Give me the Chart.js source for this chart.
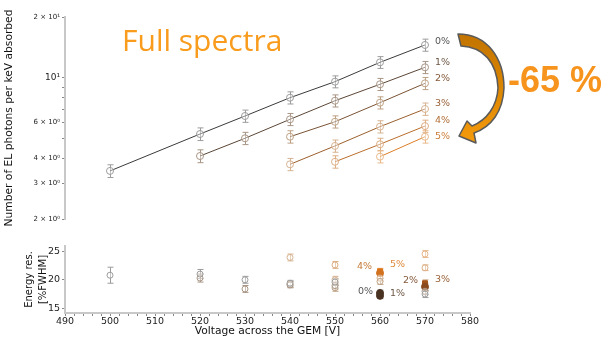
<!DOCTYPE html>
<html>
<head>
<meta charset="utf-8">
<script src="https://cdn.jsdelivr.net/npm/chart.js@4"></script>
<style>
  html, body { margin: 0; padding: 0; background: #fff; }
  #wrap { position: relative; width: 606px; height: 338px; overflow: hidden; font-family: "DejaVu Sans", sans-serif; }
  #wrap canvas { position: absolute; left: 0; }
  #arrow { position: absolute; left: 0; top: 0; }
  .lbl { position: absolute; font-size: 9.5px; line-height: 1; white-space: nowrap; }
  #title { position: absolute; left: 122px; top: 25px; font-family: "Open Sans", sans-serif; font-size: 30px; line-height: 1; color: #f99b1c; white-space: nowrap; }
  #drop { position: absolute; left: 508px; top: 62px; font-family: "Liberation Sans", Arial, sans-serif; font-weight: bold; font-size: 36px; line-height: 1; color: #f7941d; white-space: nowrap; }
</style>
</head>
<body>
<div id="wrap">
  <canvas id="yieldChart" width="606" height="232" style="top:0"></canvas>
  <canvas id="resChart" width="606" height="102" style="top:236px"></canvas>

  <svg id="arrow" width="606" height="338">
    <defs>
      <linearGradient id="arrowFill" x1="0" y1="0" x2="0" y2="1">
        <stop offset="0" stop-color="#c27400"/>
        <stop offset="0.45" stop-color="#d98400"/>
        <stop offset="1" stop-color="#f59a0c"/>
      </linearGradient>
    </defs>
    <path d="M458,34 C487,34 504,58 504,88 C503,112 491,127 474,133 L476,143 L459,136 L467,121 L472,126 C487,120 497,106 498,88 C497,62 483,47 461,46 Z"
          fill="url(#arrowFill)" stroke="#5a5a5a" stroke-width="1.5" stroke-linejoin="round"/>
  </svg>

  <div id="title">Full spectra</div>
  <div id="drop">-65 %</div>

  <div class="lbl" style="left:435px;top:36px;color:#555555">0%</div>
  <div class="lbl" style="left:435px;top:57px;color:#6f5846">1%</div>
  <div class="lbl" style="left:435px;top:73px;color:#84593a">2%</div>
  <div class="lbl" style="left:435px;top:98px;color:#9a643a">3%</div>
  <div class="lbl" style="left:435px;top:115px;color:#b27038">4%</div>
  <div class="lbl" style="left:435px;top:131px;color:#cc7e38">5%</div>

  <div class="lbl" style="left:357px;top:261px;color:#c47a36">4%</div>
  <div class="lbl" style="left:390px;top:259px;color:#dd8a3c">5%</div>
  <div class="lbl" style="left:358px;top:286px;color:#555555">0%</div>
  <div class="lbl" style="left:390px;top:288px;color:#6f5846">1%</div>
  <div class="lbl" style="left:403px;top:275px;color:#84593a">2%</div>
  <div class="lbl" style="left:435px;top:274px;color:#9a643a">3%</div>
</div>

<script>
// GEM voltages (V)
const voltage = [500, 520, 530, 540, 550, 560, 570];
const seriesNames = ['0%', '1%', '2%', '3%', '4%', '5%'];

// EL photons per keV absorbed, one array per admixture
const photons0 = [3.46, 5.27, 6.47, 7.97, 9.57, 11.93, 14.54];
const photons1 = [null, 4.10, 5.02, 6.23, 7.70, 9.29, 11.27];
const photons2 = [null, null, null, 5.11, 6.06, 7.53, 9.39];
const photons3 = [null, null, null, 3.73, 4.60, 5.73, 7.01];
const photons4 = [null, null, null, null, 3.84, 4.69, 5.77];
const photons5 = [null, null, null, null, null, 4.07, 5.11];

const photonsErr0 = [0.25, 0.38, 0.45, 0.55, 0.65, 0.80, 1.00];
const photonsErr1 = [null, 0.30, 0.35, 0.43, 0.53, 0.64, 0.78];
const photonsErr2 = [null, null, null, 0.36, 0.42, 0.52, 0.65];
const photonsErr3 = [null, null, null, 0.26, 0.32, 0.40, 0.49];
const photonsErr4 = [null, null, null, null, 0.27, 0.33, 0.40];
const photonsErr5 = [null, null, null, null, null, 0.28, 0.36];

// Energy resolution (% FWHM)
const res0 = [20.8, 21.0, 20.0, 19.4, 19.6, 17.7, 17.5];
const res1 = [null, 20.3, 18.4, 19.1, 19.0, 17.2, 18.0];
const res2 = [null, null, null, 19.2, 18.6, 19.7, 18.8];
const res3 = [null, null, null, 23.9, 20.0, 20.3, 19.4];
const res4 = [null, null, null, null, 22.6, 21.2, 22.1];
const res5 = [null, null, null, null, null, 21.5, 24.5];

const resErr0 = [1.4, 0.8, 0.6, 0.5, 0.6, 0.5, 0.6];
const resErr1 = [null, 0.7, 0.6, 0.5, 0.6, 0.5, 0.6];
const resErr2 = [null, null, null, 0.5, 0.6, 0.5, 0.6];
const resErr3 = [null, null, null, 0.6, 0.6, 0.5, 0.6];
const resErr4 = [null, null, null, null, 0.6, 0.5, 0.5];
const resErr5 = [null, null, null, null, null, 0.5, 0.6];

// log-axis tick values and their labels
const yieldTicks = [2, 3, 4, 5, 6, 7, 8, 9, 10, 20];
const yieldTickLabels = ['2 \u00d7 10\u2070', '3 \u00d7 10\u2070', '4 \u00d7 10\u2070', '', '6 \u00d7 10\u2070', '', '', '', '10\u00b9', '2 \u00d7 10\u00b9'];
const resTicks = [15, 20, 25];

const photons = [photons0, photons1, photons2, photons3, photons4, photons5];
const photonsErr = [photonsErr0, photonsErr1, photonsErr2, photonsErr3, photonsErr4, photonsErr5];
const res = [res0, res1, res2, res3, res4, res5];
const resErr = [resErr0, resErr1, resErr2, resErr3, resErr4, resErr5];

// styling per admixture
const lineColors   = ['#3a3a3a', '#5a4535', '#7a5233', '#9c5f2c', '#bb6d2a', '#db7e26'];
const markerColors = ['#9c9c9c', '#a89585', '#bda183', '#d6b290', '#dcae84', '#e8b88a'];
const filledColors = ['#4a3222', '#4a3222', '#8a4a1e', '#a3541a', '#d27220', '#e27a1e'];
// highlighted (filled) markers in the resolution panel
const filledAt = [[560], [560], [570], [570], [560], [560]];
const squareAt = [[], [], [], [570], [], [560]];

function points(xs, ys, es) {
  return xs.map((v, i) => ({ x: v, y: ys[i], err: es[i] })).filter(p => p.y != null);
}

const errorBars = {
  id: 'errorBars',
  beforeDatasetsDraw(chart) {
    const { ctx, scales: { x, y } } = chart;
    chart.data.datasets.forEach((ds, i) => {
      if (!chart.isDatasetVisible(i)) return;
      ctx.save();
      ctx.strokeStyle = ds.errorColor;
      ctx.lineWidth = 1;
      ds.data.forEach(p => {
        if (p.err == null) return;
        const px = Math.round(x.getPixelForValue(p.x)) + 0.5;
        const t = y.getPixelForValue(p.y + p.err);
        const b = y.getPixelForValue(p.y - p.err);
        ctx.beginPath();
        ctx.moveTo(px, t); ctx.lineTo(px, b);
        ctx.moveTo(px - 3, t); ctx.lineTo(px + 3, t);
        ctx.moveTo(px - 3, b); ctx.lineTo(px + 3, b);
        ctx.stroke();
      });
      ctx.restore();
    });
  }
};

Chart.defaults.font.family = '"DejaVu Sans", sans-serif';
Chart.defaults.color = '#222';

new Chart(document.getElementById('yieldChart'), {
  type: 'line',
  data: {
    datasets: photons.map((vals, k) => ({
      label: seriesNames[k],
      data: points(voltage, vals, photonsErr[k]),
      borderColor: lineColors[k],
      borderWidth: 1,
      pointRadius: 3.5,
      pointBorderWidth: 1,
      pointBorderColor: markerColors[k],
      pointBackgroundColor: 'rgba(255,255,255,0.4)',
      errorColor: markerColors[k],
      tension: 0
    }))
  },
  options: {
    responsive: false,
    animation: false,
    devicePixelRatio: 1,
    layout: { padding: { top: 17, bottom: 13, left: 0, right: 136 } },
    plugins: { legend: { display: false }, tooltip: { enabled: false } },
    scales: {
      x: { type: 'linear', min: 490, max: 580, display: false },
      y: {
        type: 'logarithmic', min: 2, max: 20,
        afterBuildTicks: s => { s.ticks = yieldTicks.map(v => ({ value: v })); },
        afterFit: s => { s.width = 65; },
        ticks: {
          autoSkip: false, padding: 2, color: '#222',
          font: c => ({ size: (c.tick && c.tick.value === 10) ? 9 : 7 }),
          callback: v => yieldTickLabels[yieldTicks.indexOf(v)] ?? ''
        },
        grid: { drawOnChartArea: false, drawTicks: true, tickLength: 3, tickColor: '#888' },
        border: { display: true, color: '#c8c8c8', width: 2 },
        title: { display: true, text: 'Number of EL photons per keV absorbed', font: { size: 10.7 }, color: '#111', padding: { top: 3, bottom: 0 } }
      }
    }
  },
  plugins: [errorBars]
});

new Chart(document.getElementById('resChart'), {
  type: 'line',
  data: {
    datasets: res.map((vals, k) => ({
      label: seriesNames[k],
      data: points(voltage, vals, resErr[k]),
      showLine: false,
      pointRadius: c => filledAt[k].includes(c.raw && c.raw.x) ? 3.5 : 3,
      pointBorderWidth: 1,
      pointStyle: c => squareAt[k].includes(c.raw && c.raw.x) ? 'rect' : 'circle',
      pointBorderColor: c => filledAt[k].includes(c.raw && c.raw.x) ? filledColors[k] : markerColors[k],
      pointBackgroundColor: c => filledAt[k].includes(c.raw && c.raw.x) ? filledColors[k] : 'rgba(255,255,255,0.4)',
      errorColor: markerColors[k]
    }))
  },
  options: {
    responsive: false,
    animation: false,
    devicePixelRatio: 1,
    layout: { padding: { top: 10, bottom: 0, left: 0, right: 136 } },
    plugins: { legend: { display: false }, tooltip: { enabled: false } },
    scales: {
      x: {
        type: 'linear', min: 490, max: 580,
        afterBuildTicks: s => { const t = []; for (let v = 490; v <= 580; v += 2) t.push({ value: v }); s.ticks = t; },
        afterFit: s => { s.height = 25; },
        ticks: { autoSkip: false, maxRotation: 0, padding: 0, font: { size: 9.5 }, color: '#222', callback: v => (v % 10 === 0 ? String(v) : '') },
        grid: { drawOnChartArea: false, drawTicks: true, tickLength: 3, tickColor: '#888' },
        border: { display: true, color: '#c8c8c8', width: 2 },
        title: { display: true, text: 'Voltage across the GEM [V]', font: { size: 10.7 }, color: '#111', padding: 0 }
      },
      y: {
        type: 'linear', min: 14.2, max: 25.9,
        afterBuildTicks: s => { s.ticks = resTicks.map(v => ({ value: v })); },
        afterFit: s => { s.width = 65; },
        ticks: { autoSkip: false, padding: 2, font: { size: 9.5 }, color: '#222' },
        grid: { drawOnChartArea: false, drawTicks: true, tickLength: 3, tickColor: '#888' },
        border: { display: true, color: '#c8c8c8', width: 2 },
        title: { display: true, text: ['Energy res.', '[%FWHM]'], font: { size: 10, lineHeight: 1.4 }, color: '#111', padding: { top: 22, bottom: 0 } }
      }
    }
  },
  plugins: [errorBars]
});
</script>
</body>
</html>
